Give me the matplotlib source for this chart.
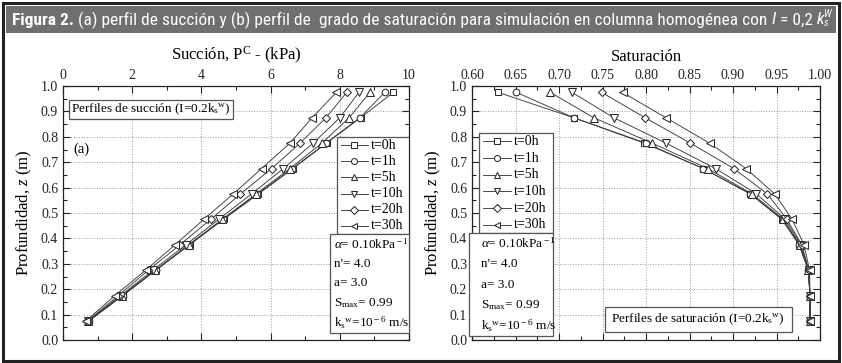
import matplotlib
matplotlib.use('Agg')
import matplotlib.pyplot as plt
from matplotlib.patches import Rectangle
from matplotlib.lines import Line2D
from matplotlib.ticker import MultipleLocator, FormatStrFormatter
from matplotlib import font_manager

# ---------------- data ----------------
depth = [0.975, 0.875, 0.775, 0.675, 0.575, 0.475, 0.375, 0.275, 0.175, 0.075]
series_labels = ['t=0h', 't=1h', 't=5h', 't=10h', 't=20h', 't=30h']

suction_t0 = [9.55, 8.60, 7.62, 6.65, 5.65, 4.64, 3.66, 2.69, 1.73, 0.75]
suction_t1 = [9.30, 8.58, 7.60, 6.62, 5.62, 4.62, 3.65, 2.68, 1.72, 0.74]
suction_t5 = [8.87, 8.27, 7.48, 6.56, 5.58, 4.60, 3.63, 2.67, 1.70, 0.73]
suction_t10 = [8.55, 8.00, 7.23, 6.37, 5.45, 4.50, 3.55, 2.60, 1.67, 0.72]
suction_t20 = [8.20, 7.60, 6.85, 6.03, 5.13, 4.27, 3.38, 2.47, 1.60, 0.70]
suction_t30 = [7.90, 7.20, 6.56, 5.74, 4.92, 4.07, 3.24, 2.39, 1.50, 0.66]

sat_t0 = [0.630, 0.717, 0.798, 0.866, 0.920, 0.956, 0.976, 0.9866, 0.9885, 0.9885]
sat_t1 = [0.651, 0.717, 0.800, 0.866, 0.920, 0.957, 0.976, 0.9866, 0.9885, 0.9885]
sat_t5 = [0.690, 0.740, 0.807, 0.871, 0.922, 0.958, 0.977, 0.9866, 0.9885, 0.9885]
sat_t10 = [0.715, 0.763, 0.823, 0.880, 0.927, 0.960, 0.978, 0.9870, 0.9885, 0.9885]
sat_t20 = [0.749, 0.799, 0.851, 0.901, 0.9395, 0.962, 0.979, 0.9870, 0.9885, 0.9885]
sat_t30 = [0.773, 0.823, 0.873, 0.915, 0.948, 0.968, 0.9816, 0.9880, 0.9885, 0.9885]

suction_series = [suction_t0, suction_t1, suction_t5, suction_t10, suction_t20, suction_t30]
sat_series = [sat_t0, sat_t1, sat_t5, sat_t10, sat_t20, sat_t30]

left_xticks = [0, 2, 4, 6, 8, 10]
right_xticks = [0.60, 0.65, 0.70, 0.75, 0.80, 0.85, 0.90, 0.95, 1.00]
yticks = [0.0, 0.1, 0.2, 0.3, 0.4, 0.5, 0.6, 0.7, 0.8, 0.9, 1.0]

param_lines = [r'$\alpha$= 0.10kPa$^{\rm -1}$', "n'= 4.0", 'a= 3.0',
               r'S$_{\rm max}$= 0.99', r'k$_{\rm s}$$^{\rm w}$=10$^{\rm -6}$ m/s']

# ---------------- style ----------------
serif = 'Liberation Serif'
plt.rcParams['font.family'] = [serif, 'DejaVu Serif']
plt.rcParams['mathtext.fontset'] = 'custom'
plt.rcParams['mathtext.rm'] = serif
plt.rcParams['mathtext.it'] = serif + ':italic'
plt.rcParams['mathtext.bf'] = serif + ':bold'
plt.rcParams['mathtext.sf'] = serif

markers = ['s', 'o', '^', 'v', 'D', '<']
msizes = [4.3, 4.8, 5.2, 5.2, 4.2, 5.2]
line_color = '#3a3a3a'
edge_color = '#2a2a2a'

W, H = 842, 363
fig = plt.figure(figsize=(W / 100, H / 100), dpi=100)

def px_rect(x0, y0, x1, y1):
    return [x0 / W, 1 - y1 / H, (x1 - x0) / W, (y1 - y0) / H]

# outer frame and title band
fig.patches.append(Rectangle((3 / W, 2 / H), (W - 6) / W, (H - 5) / H, transform=fig.transFigure,
                             fill=False, edgecolor='#222222', linewidth=2.2))
fig.patches.append(Rectangle((6 / W, 1 - 33 / H), (W - 12) / W, 27 / H, transform=fig.transFigure,
                             facecolor='#6e6f71', edgecolor='none'))

ax1 = fig.add_axes(px_rect(63, 86, 409, 340))
ax2 = fig.add_axes(px_rect(472, 86, 820, 340))

def style_axes(ax, xlim, xticks, xminor, xfmt):
    ax.set_xlim(*xlim)
    ax.set_ylim(0, 1.0)
    ax.set_xticks(xticks)
    ax.set_yticks(yticks)
    ax.xaxis.set_minor_locator(MultipleLocator(xminor))
    ax.yaxis.set_minor_locator(MultipleLocator(0.05))
    ax.xaxis.set_major_formatter(FormatStrFormatter(xfmt))
    ax.yaxis.set_major_formatter(FormatStrFormatter('%.1f'))
    ax.xaxis.set_label_position('top')
    ax.tick_params(axis='both', which='both', direction='in', top=True, bottom=True,
                   left=True, right=True, labeltop=True, labelbottom=False,
                   labelsize=10, colors='#222222', width=0.8)
    ax.tick_params(which='major', length=5)
    ax.tick_params(which='minor', length=3)
    ax.tick_params(axis='x', which='major', pad=3)
    ax.grid(True, which='major', linestyle=':', color='#9a9a9a', linewidth=0.7)
    for s in ax.spines.values():
        s.set_linewidth(0.9)
        s.set_color('#222222')
    ax.set_ylabel(r'Profundidad, $z$ (m)', fontsize=12, labelpad=5)

style_axes(ax1, (0, 10), left_xticks, 1, '%g')
style_axes(ax2, (0.6, 1.0), right_xticks, 0.025, '%.2f')
ax1.set_xlabel(r'Succión, P$^{\rm C}$ - (kPa)', fontsize=12, labelpad=6)
ax2.set_xlabel('Saturación', fontsize=12, labelpad=6)

for ax, data in ((ax1, suction_series), (ax2, sat_series)):
    for vals, m, ms, lab in zip(data, markers, msizes, series_labels):
        ax.plot(vals, depth, color=line_color, linewidth=0.65, marker=m, markersize=ms,
                markerfacecolor='white', markeredgecolor=edge_color, markeredgewidth=0.75,
                label=lab, zorder=3)

def legend_box(ax, x0, x1, y0, y1):
    ax.add_patch(Rectangle((x0, y0), x1 - x0, y1 - y0, transform=ax.transAxes,
                           facecolor='white', edgecolor='#555555', linewidth=0.9, zorder=5))
    n = len(series_labels)
    step = (y1 - y0) / n
    w = x1 - x0
    for i, (lab, m, ms) in enumerate(zip(series_labels, markers, msizes)):
        yc = y1 - step * (i + 0.5)
        ax.add_line(Line2D([x0 + 0.05 * w, x0 + 0.43 * w], [yc, yc], transform=ax.transAxes,
                           color=line_color, linewidth=0.65, zorder=6))
        ax.add_line(Line2D([x0 + 0.24 * w], [yc], transform=ax.transAxes, marker=m,
                           markersize=ms * 0.9, markerfacecolor='white', markeredgecolor=edge_color,
                           markeredgewidth=0.75, zorder=7))
        ax.text(x0 + 0.47 * w, yc, lab, transform=ax.transAxes, fontsize=10,
                va='center', ha='left', zorder=7)

def param_box(ax, x0, x1, y0, y1, pad):
    ax.add_patch(Rectangle((x0, y0), x1 - x0, y1 - y0, transform=ax.transAxes,
                           facecolor='white', edgecolor='#555555', linewidth=0.9, zorder=5,
                           clip_on=False))
    n = len(param_lines)
    step = (y1 - y0) / n
    for i, t in enumerate(param_lines):
        yc = y1 - step * (i + 0.5)
        ax.text(x0 + pad, yc, t, transform=ax.transAxes, fontsize=9.5,
                va='center', ha='left', zorder=7)

def note_box(ax, x0, x1, y0, y1, text):
    ax.add_patch(Rectangle((x0, y0), x1 - x0, y1 - y0, transform=ax.transAxes,
                           facecolor='white', edgecolor='#555555', linewidth=0.9, zorder=5))
    ax.text((x0 + x1) / 2, (y0 + y1) / 2, text, transform=ax.transAxes, fontsize=9.5,
            va='center', ha='center', zorder=7)

# left panel boxes
legend_box(ax1, 0.792, 1.0, 0.417, 0.799)
param_box(ax1, 0.772, 1.0, 0.028, 0.417, 0.012)
note_box(ax1, 0.017, 0.49, 0.87, 0.945, r'Perfiles de succión (I=0.2k$_{\rm s}$$^{\rm w}$)')
ax1.text(0.03, 0.75, '(a)', transform=ax1.transAxes, fontsize=10.5, va='center', ha='left')

# right panel boxes
legend_box(ax2, 0.02, 0.233, 0.421, 0.815)
param_box(ax2, -0.009, 0.233, 0.016, 0.421, 0.035)
note_box(ax2, 0.381, 0.92, 0.03, 0.13, r'Perfiles de saturación (I=0.2k$_{\rm s}$$^{\rm w}$)')
ax2.text(0.03, 0.745, '(b)', transform=ax2.transAxes, fontsize=10.5, va='center', ha='left')

# ---------------- title (sequential pieces, fitted to width) ----------------
names = {f.name for f in font_manager.fontManager.ttflist}
tfont = 'DejaVu Sans'
for cand in ['Liberation Sans Narrow', 'Roboto Condensed', 'Open Sans Condensed', 'Roboto']:
    if cand in names:
        tfont = cand
        break
pieces = [('Figura 2.', 'bold', 'normal', 1.0, 0),
          (' (a) perfil de succión y (b) perfil de  grado de saturación para simulación en columna homogénea con ',
           'normal', 'normal', 1.0, 0),
          ('I', 'normal', 'italic', 1.0, 0),
          (' = 0,2 ', 'normal', 'normal', 1.0, 0),
          ('k', 'normal', 'italic', 1.0, 0),
          ('s', 'normal', 'italic', 0.6, -3.5),
          ('W', 'normal', 'italic', 0.6, 6)]

renderer = fig.canvas.get_renderer()

def draw_title(size):
    arts = []
    x = 12
    ybase = 20
    last_w = 0
    for txt, wgt, sty, scale, dy in pieces:
        if txt == 'W':
            x -= last_w
        t = fig.text(x / W, 1 - (ybase - dy) / H, txt, fontsize=size * scale, fontweight=wgt,
                     fontstyle=sty, family=tfont, color='white', va='center', ha='left')
        bb = t.get_window_extent(renderer)
        last_w = bb.width
        x += bb.width
        arts.append(t)
    return arts, x

arts, xend = draw_title(12)
for a in arts:
    a.remove()
size = 12 * (828 - 12) / (xend - 12)
arts, xend = draw_title(size)

fig.savefig('out.png', dpi=100)
